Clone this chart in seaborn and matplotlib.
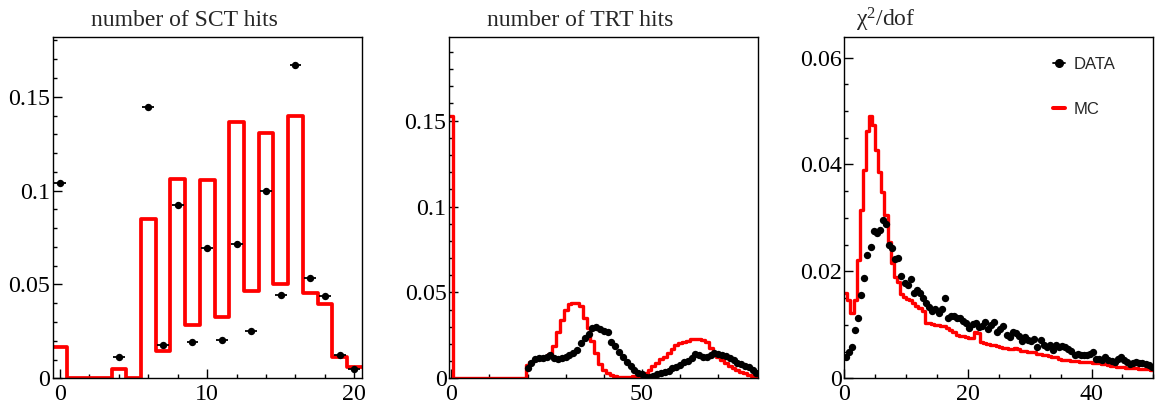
import numpy as np
import pandas as pd
import matplotlib
matplotlib.use("Agg")
import matplotlib.pyplot as plt
import matplotlib.ticker as mticker
from matplotlib.lines import Line2D
import seaborn as sns

# ---------------- number of SCT hits (unit bins centred on 0..20) ----------------
sct_bins = [0, 1, 2, 3, 4, 5, 6, 7, 8, 9, 10, 11, 12, 13, 14, 15, 16, 17, 18, 19, 20]
sct_mc = [0.0168, 0.0, 0.0, 0.0, 0.0051, 0.0, 0.0851, 0.0145, 0.1060, 0.0284,
          0.1055, 0.0325, 0.1365, 0.0466, 0.1309, 0.0500, 0.1396, 0.0452, 0.0395,
          0.0115, 0.0062]
sct_data_x = [0, 4, 6, 7, 8, 9, 10, 11, 12, 13, 14, 15, 16, 17, 18, 19, 20]
sct_data_y = [0.1038, 0.0115, 0.1446, 0.0177, 0.0922, 0.0192, 0.0692, 0.0205,
              0.0716, 0.0252, 0.0998, 0.0443, 0.1667, 0.0535, 0.0436, 0.0122, 0.0051]
sct_data_err = [0.0016, 0.0006, 0.0018, 0.0007, 0.0015, 0.0007, 0.0013, 0.0007,
                0.0013, 0.0008, 0.0016, 0.0010, 0.0020, 0.0011, 0.0010, 0.0005, 0.0004]

# ---------------- number of TRT hits (unit bins centred on 0..80) ----------------
trt_bins = list(range(0, 81))
trt_mc = [0.1525,
          0.0, 0.0, 0.0, 0.0, 0.0, 0.0, 0.0, 0.0, 0.0, 0.0,
          0.0, 0.0, 0.0, 0.0, 0.0, 0.0, 0.0, 0.0, 0.0,
          0.0075, 0.0095, 0.0105, 0.0110, 0.0120, 0.0130, 0.0140, 0.0190, 0.0270, 0.0340,
          0.0400, 0.0430, 0.0440, 0.0440, 0.0420, 0.0350, 0.0290, 0.0220, 0.0150, 0.0085,
          0.0050, 0.0030, 0.0020, 0.0012, 0.0010, 0.0010, 0.0010, 0.0010, 0.0012, 0.0015,
          0.0020, 0.0030, 0.0050, 0.0070, 0.0090, 0.0110, 0.0125, 0.0145, 0.0170, 0.0195,
          0.0205, 0.0210, 0.0220, 0.0228, 0.0230, 0.0230, 0.0225, 0.0210, 0.0175, 0.0150,
          0.0125, 0.0105, 0.0088, 0.0072, 0.0058, 0.0046, 0.0036, 0.0028, 0.0021, 0.0016,
          0.0010]
trt_data_x = list(range(20, 81))
trt_data_y = [0.0062, 0.0091, 0.0113, 0.0116, 0.0120, 0.0126, 0.0134, 0.0116, 0.0113, 0.0116,
              0.0126, 0.0136, 0.0150, 0.0165, 0.0208, 0.0233, 0.0258, 0.0290, 0.0297, 0.0285,
              0.0277, 0.0270, 0.0213, 0.0188, 0.0155, 0.0126, 0.0097, 0.0072, 0.0049, 0.0033,
              0.0025, 0.0010, 0.0010, 0.0016, 0.0023, 0.0029, 0.0037, 0.0045, 0.0058, 0.0068,
              0.0078, 0.0097, 0.0103, 0.0116, 0.0140, 0.0136, 0.0126, 0.0122, 0.0136, 0.0150,
              0.0142, 0.0136, 0.0130, 0.0116, 0.0107, 0.0091, 0.0083, 0.0072, 0.0064, 0.0049,
              0.0030]

# ---------------- chi2/dof (bins of width 0.5 from 0 to 50) ----------------
chi_centres = list(np.arange(0.25, 50.0, 0.5))
chi_mc = [0.0159, 0.0147, 0.0122, 0.0147, 0.0221, 0.0314, 0.0390, 0.0462, 0.0490, 0.0474,
          0.0427, 0.0386, 0.0349, 0.0306, 0.0255, 0.0215, 0.0190, 0.0180, 0.0158, 0.0152,
          0.0148, 0.0146, 0.0140, 0.0136, 0.0132, 0.0125, 0.0104, 0.0103, 0.0102, 0.0100,
          0.0100, 0.0098, 0.0097, 0.0094, 0.0090, 0.0086, 0.0081, 0.0080, 0.0079, 0.0078,
          0.0076, 0.0075, 0.0086, 0.0085, 0.0068, 0.0066, 0.0064, 0.0062, 0.0062, 0.0060,
          0.0058, 0.0057, 0.0056, 0.0055, 0.0054, 0.0056, 0.0054, 0.0052, 0.0051, 0.0050,
          0.0050, 0.0049, 0.0046, 0.0045, 0.0044, 0.0043, 0.0041, 0.0040, 0.0039, 0.0037,
          0.0035, 0.0034, 0.0034, 0.0033, 0.0032, 0.0032, 0.0031, 0.0031, 0.0030, 0.0030,
          0.0029, 0.0028, 0.0028, 0.0027, 0.0026, 0.0025, 0.0023, 0.0023, 0.0022, 0.0022,
          0.0021, 0.0020, 0.0020, 0.0019, 0.0019, 0.0018, 0.0018, 0.0017, 0.0017, 0.0016]
chi_data = [0.0039, 0.0050, 0.0058, 0.0090, 0.0113, 0.0155, 0.0187, 0.0231, 0.0246, 0.0276,
            0.0272, 0.0277, 0.0297, 0.0288, 0.0250, 0.0244, 0.0223, 0.0225, 0.0192, 0.0178,
            0.0174, 0.0185, 0.0160, 0.0165, 0.0160, 0.0150, 0.0141, 0.0134, 0.0126, 0.0130,
            0.0122, 0.0130, 0.0150, 0.0112, 0.0116, 0.0117, 0.0113, 0.0112, 0.0108, 0.0103,
            0.0094, 0.0101, 0.0104, 0.0096, 0.0098, 0.0106, 0.0093, 0.0100, 0.0106, 0.0087,
            0.0093, 0.0097, 0.0081, 0.0078, 0.0087, 0.0084, 0.0079, 0.0069, 0.0078, 0.0072,
            0.0069, 0.0073, 0.0058, 0.0072, 0.0062, 0.0059, 0.0062, 0.0053, 0.0062, 0.0058,
            0.0060, 0.0058, 0.0055, 0.0052, 0.0044, 0.0045, 0.0044, 0.0043, 0.0044, 0.0046,
            0.0049, 0.0036, 0.0037, 0.0034, 0.0039, 0.0034, 0.0033, 0.0031, 0.0036, 0.0040,
            0.0034, 0.0031, 0.0027, 0.0029, 0.0031, 0.0029, 0.0028, 0.0027, 0.0025, 0.0022]

titles = ["number of SCT hits", "number of TRT hits", "χ$^{2}$/dof"]
legend_labels = ["DATA", "MC"]

# ---------------- styling ----------------
sns.set_style("white")
plt.rcParams["font.family"] = ["Liberation Serif", "DejaVu Serif"]
plt.rcParams["mathtext.fontset"] = "custom"
plt.rcParams["mathtext.rm"] = "Liberation Serif"
plt.rcParams["mathtext.it"] = "Liberation Serif:italic"
plt.rcParams["axes.linewidth"] = 1.0

W, H = 1155, 409
fig = plt.figure(figsize=(W / 100, H / 100), dpi=100)


def frame(left, right, top, bottom):
    return [left / W, 1 - bottom / H, (right - left) / W, (bottom - top) / H]


ax1 = fig.add_axes(frame(52.7, 361.7, 36.7, 378.3))
ax2 = fig.add_axes(frame(449.3, 758.3, 37.3, 378.3))
ax3 = fig.add_axes(frame(844.3, 1153.3, 36.7, 378.3))

RED_LW = 2.4
MARKER_S = 28


def mc_hist(ax, centres, values, edges, lw):
    frame_df = pd.DataFrame({"x": centres, "w": values})
    sns.histplot(data=frame_df, x="x", weights="w", bins=[float(e) for e in edges],
                 element="step", fill=False, color="red", linewidth=lw, ax=ax)


# SCT panel
mc_hist(ax1, sct_bins, sct_mc, np.arange(-0.5, 21.0, 1.0), RED_LW + 0.3)
ax1.errorbar(sct_data_x, sct_data_y, xerr=0.4, yerr=sct_data_err, fmt="none",
             ecolor="black", elinewidth=1.3, capsize=0, zorder=3)
sns.scatterplot(x=sct_data_x, y=sct_data_y, color="black", s=MARKER_S, linewidth=0,
                ax=ax1, zorder=4)

# TRT panel
mc_hist(ax2, trt_bins, trt_mc, np.arange(-0.5, 81.0, 1.0), RED_LW)
sns.scatterplot(x=trt_data_x, y=trt_data_y, color="black", s=MARKER_S, linewidth=0,
                ax=ax2, zorder=4)

# chi2/dof panel
mc_hist(ax3, chi_centres, chi_mc, np.arange(0.0, 50.25, 0.5), RED_LW)
ax3.errorbar(chi_centres, chi_data, yerr=0.0005, fmt="none", ecolor="black",
             elinewidth=1.0, capsize=0, zorder=3)
sns.scatterplot(x=chi_centres, y=chi_data, color="black", s=MARKER_S, linewidth=0,
                ax=ax3, zorder=4)

axis_setup = [
    (ax1, (-0.5, 20.5), (0, 0.182), 10, 2, 0.05, 0.01),
    (ax2, (-0.5, 80.5), (0, 0.1985), 50, 10, 0.05, 0.01),
    (ax3, (0, 50), (0, 0.0639), 20, 5, 0.02, 0.005),
]
fmt = mticker.FuncFormatter(lambda v, p: f"{v:g}")
for ax, xl, yl, xmaj, xmin, ymaj, ymin in axis_setup:
    ax.set_xlim(*xl)
    ax.set_ylim(*yl)
    ax.set_xlabel("")
    ax.set_ylabel("")
    ax.xaxis.set_major_locator(mticker.MultipleLocator(xmaj))
    ax.xaxis.set_minor_locator(mticker.MultipleLocator(xmin))
    ax.yaxis.set_major_locator(mticker.MultipleLocator(ymaj))
    ax.yaxis.set_minor_locator(mticker.MultipleLocator(ymin))
    ax.xaxis.set_major_formatter(fmt)
    ax.yaxis.set_major_formatter(fmt)
    ax.tick_params(which="both", direction="in", bottom=True, left=True,
                   top=False, right=False, colors="black", width=1.0)
    ax.tick_params(which="major", length=6.5, labelsize=17.3)
    ax.tick_params(which="minor", length=3.2)
    ax.tick_params(axis="x", which="major", pad=4)
    ax.tick_params(axis="y", which="major", pad=2)
    for s in ax.spines.values():
        s.set_visible(True)
        s.set_color("black")
        s.set_linewidth(1.0)

fig.canvas.draw()
for ax in (ax1, ax2, ax3):
    ax.get_yticklabels()[0].set_va("top")

# panel titles
fig.text(184 / W, 1 - 25.5 / H, titles[0], fontsize=17, ha="center", va="baseline")
fig.text(580.5 / W, 1 - 25.5 / H, titles[1], fontsize=17, ha="center", va="baseline")
fig.text(856 / W, 1 - 27 / H, titles[2], fontsize=17, ha="left", va="baseline")

# legend of the chi2/dof panel
handles = [Line2D([], [], color="black", marker="o", markersize=5.5, linewidth=1.3),
           Line2D([], [], color="red", linewidth=RED_LW + 0.5)]
ax3.legend(handles, legend_labels, loc="upper left", bbox_to_anchor=(0.648, 0.964),
           frameon=False, borderpad=0, handlelength=0.75, handletextpad=0.5,
           labelspacing=1.8, prop={"family": "Liberation Sans", "size": 12})

fig.savefig("out.png", dpi=100)
